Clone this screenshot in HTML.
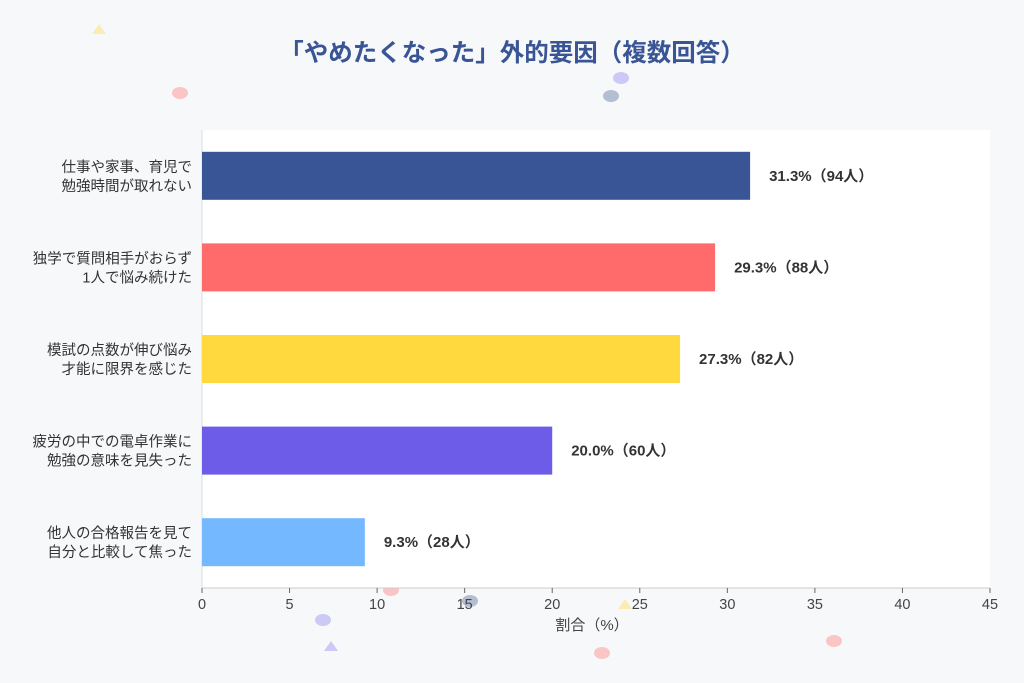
<!DOCTYPE html>
<html><head><meta charset="utf-8">
<style>
body{margin:0;background:#f7f8f9;}
svg{display:block;font-family:"Liberation Sans","Noto Sans CJK JP",sans-serif;}
</style></head>
<body>
<svg id="chart" width="1024" height="683" viewBox="0 0 1024 683">
<rect x="0" y="0" width="1024" height="683" fill="#f7f8f9"/>
<g opacity="0.55">
<polygon points="99,24 106,34 92,34" fill="#ffe27a"/>
<ellipse cx="180" cy="93" rx="8" ry="6" fill="#ff9a9a"/>
<ellipse cx="621" cy="78" rx="8" ry="6" fill="#a9a3f5"/>
<ellipse cx="611" cy="96" rx="8" ry="6" fill="#7f8fb5"/>
<ellipse cx="391" cy="590" rx="8" ry="6" fill="#ff9a9a"/>
<ellipse cx="470" cy="601" rx="8" ry="6" fill="#7f8fb5"/>
<polygon points="625,599 632,609 618,609" fill="#ffe27a"/>
<ellipse cx="323" cy="620" rx="8" ry="6" fill="#a9a3f5"/>
<polygon points="331,641 338,651 324,651" fill="#a9a3f5"/>
<ellipse cx="602" cy="653" rx="8" ry="6" fill="#ff9a9a"/>
<ellipse cx="834" cy="641" rx="8" ry="6" fill="#ff9a9a"/>
</g>
<text x="512" y="61" text-anchor="middle" font-size="24.5" font-weight="bold" fill="#3a5595">「やめたくなった」外的要因（複数回答）</text>
<rect x="202" y="130" width="788" height="458" fill="#ffffff"/>
<g id="xaxis"></g>
<g id="bars"></g>
<text x="592" y="630" text-anchor="middle" font-size="15" fill="#444">割合（%）</text>
</svg>
<script>
const categoriesLine1 = ["仕事や家事、育児で","独学で質問相手がおらず","模試の点数が伸び悩み","疲労の中での電卓作業に","他人の合格報告を見て"];
const categoriesLine2 = ["勉強時間が取れない","1人で悩み続けた","才能に限界を感じた","勉強の意味を見失った","自分と比較して焦った"];
const percentValues = [31.3, 29.3, 27.3, 20.0, 9.3];
const countValues = [94, 88, 82, 60, 28];
const barColors = ["#3a5595","#ff6b6b","#ffd93d","#6c5ce7","#74b9ff"];
const xTicks = [0,5,10,15,20,25,30,35,40,45];

const NS = "http://www.w3.org/2000/svg";
const x0 = 202, x1 = 990, xMax = 45;
const xs = v => x0 + (v / xMax) * (x1 - x0);
const yTop = 130, bandH = 91.6;
const yc = i => yTop + bandH * (i + 0.5);
function mk(tag, attrs, parent){const e=document.createElementNS(NS,tag);for(const k in attrs)e.setAttribute(k,attrs[k]);parent.appendChild(e);return e;}
const ax = document.getElementById('xaxis');
const l = mk('line',{x1:x0,y1:588,x2:x1,y2:588,stroke:'#ccc'},ax);


const yl = mk('line',{x1:x0,y1:130,x2:x0,y2:588,stroke:'#ddd'},ax);


xTicks.forEach(t=>{
  const tk = mk('line',{x1:xs(t),y1:588,x2:xs(t),y2:593,stroke:'#666'},ax);
  
  
  const tx = mk('text',{x:xs(t),y:609,'text-anchor':'middle','font-size':14.5,fill:'#444'},ax);
  tx.textContent = t;
  
  
});
const bg = document.getElementById('bars');
percentValues.forEach((v,i)=>{
  const c = yc(i);
  const r = mk('rect',{x:x0,y:c-24,width:xs(v)-x0,height:48,fill:barColors[i]},bg);
  
  
  const vl = mk('text',{x:xs(v)+19,y:c+5,'font-size':15,'font-weight':'bold',fill:'#333'},bg);
  vl.textContent = v.toFixed(1)+'%（'+countValues[i]+'人）';
  
  
  const t1 = mk('text',{x:192,y:c-4,'text-anchor':'end','font-size':14.5,fill:'#333'},bg);
  t1.textContent = categoriesLine1[i];
  
  
  const t2 = mk('text',{x:192,y:c+15,'text-anchor':'end','font-size':14.5,fill:'#333'},bg);
  t2.textContent = categoriesLine2[i];
  
  
});
</script>
</body></html>
